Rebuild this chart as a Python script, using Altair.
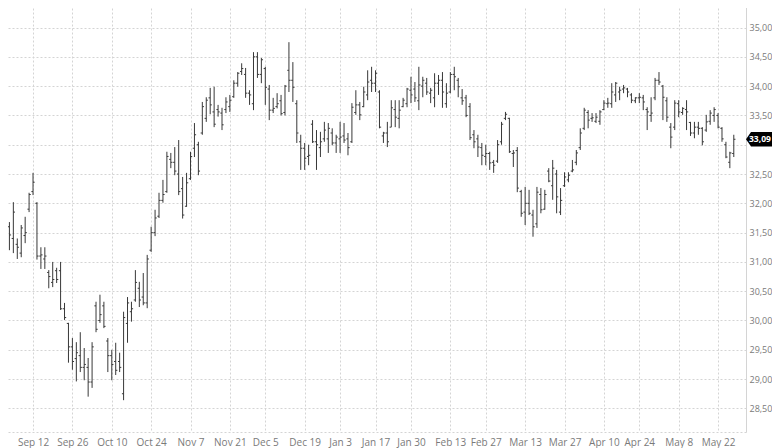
import altair as alt
import pandas as pd

# trading-day index (1 = Aug 30) ... 187 = May 26
day_index = list(range(1, 188))

open_ = [
    32.11, 31.85, 31.60, 31.40, 31.30, 31.15, 31.45, 31.90, 32.20, 32.00,
    31.10, 31.05, 30.82, 30.65, 30.85, 30.85, 30.20, 29.95, 29.55, 29.35,
    29.40, 29.20, 29.20, 28.95, 30.25, 30.00, 30.25, 29.65, 29.40, 29.30,
    29.30, 28.75, 29.95, 30.15, 30.35, 30.55, 30.40, 30.30, 31.20, 31.50,
    31.78, 32.05, 32.20, 32.75, 32.70, 32.50, 32.25, 31.95, 32.42, 32.94,
    33.00, 33.20, 33.45, 33.80, 33.56, 33.60, 33.54, 33.60, 33.65, 33.82,
    34.05, 34.25, 34.20, 33.88, 33.70, 34.50, 34.20, 34.30, 33.95, 33.59,
    33.65, 33.75, 33.55, 34.27, 34.10, 33.70, 33.05, 32.94, 32.80, 33.35,
    33.05, 32.95, 33.10, 33.10, 33.20, 33.03, 33.10, 33.15, 33.10, 33.05,
    33.55, 33.68, 33.65, 33.85, 34.10, 34.05, 33.90, 33.15, 33.20, 33.30,
    33.60, 33.45, 33.65, 33.70, 33.93, 33.95, 33.75, 34.00, 34.05, 33.88,
    33.80, 34.05, 34.10, 33.70, 33.90, 34.20, 34.10, 33.80, 33.80, 33.65,
    33.17, 33.10, 32.95, 32.80, 32.85, 32.70, 32.72, 33.05, 33.45, 33.45,
    32.85, 32.90, 32.20, 31.85, 32.00, 31.80, 31.65, 32.15, 31.90, 32.55,
    32.30, 32.50, 31.85, 32.30, 32.40, 32.55, 32.70, 32.95, 33.28, 33.55,
    33.45, 33.40, 33.40, 33.60, 33.70, 33.70, 33.85, 33.90, 33.95, 33.95,
    33.85, 33.75, 33.80, 33.80, 33.60, 33.50, 33.80, 34.10, 34.00, 33.75,
    33.30, 33.30, 33.70, 33.55, 33.60, 33.38, 33.20, 33.30, 33.28, 33.25,
    33.40, 33.50, 33.50, 33.28, 33.00, 32.70, 32.85,
]
high = [
    32.19, 32.01, 31.68, 32.02, 31.40, 31.63, 31.77, 32.18, 32.52, 32.02,
    31.25, 31.25, 30.86, 31.00, 30.90, 31.00, 30.30, 29.96, 29.70, 29.63,
    29.80, 29.53, 29.36, 29.63, 30.32, 30.44, 30.32, 29.70, 29.50, 29.62,
    29.45, 30.15, 30.40, 30.32, 30.86, 30.66, 30.81, 31.12, 31.60, 31.89,
    32.18, 32.40, 32.88, 32.86, 32.96, 33.08, 32.45, 32.52, 32.88, 33.37,
    33.05, 33.73, 33.81, 33.97, 33.99, 33.68, 33.63, 33.81, 33.85, 34.10,
    34.24, 34.39, 34.31, 33.93, 34.58, 34.58, 34.48, 34.33, 34.02, 33.80,
    33.88, 33.85, 34.02, 34.75, 34.41, 33.76, 33.17, 33.03, 33.00, 33.42,
    33.25, 33.22, 33.39, 33.37, 33.28, 33.17, 33.39, 33.37, 33.20, 33.71,
    33.93, 33.73, 33.99, 34.27, 34.33, 34.27, 33.93, 33.22, 33.39, 33.76,
    33.76, 33.76, 33.80, 33.97, 34.16, 34.07, 34.33, 34.16, 34.14, 33.97,
    34.22, 34.19, 34.24, 34.05, 34.24, 34.33, 34.14, 33.95, 33.85, 33.71,
    33.25, 33.17, 33.03, 33.00, 32.88, 32.74, 33.08, 33.39, 33.56, 33.46,
    32.91, 32.96, 32.23, 32.28, 32.23, 31.89, 32.28, 32.26, 32.23, 32.60,
    32.74, 32.57, 32.26, 32.53, 32.53, 32.74, 32.91, 33.28, 33.63, 33.59,
    33.54, 33.54, 33.59, 33.76, 33.80, 34.05, 34.07, 33.99, 34.02, 33.97,
    33.88, 33.81, 33.88, 33.85, 33.64, 33.81, 34.14, 34.24, 34.02, 33.81,
    33.37, 33.76, 33.76, 33.64, 33.76, 33.39, 33.39, 33.39, 33.30, 33.51,
    33.59, 33.64, 33.54, 33.30, 33.05, 32.88, 33.17,
]
low = [
    31.66, 31.59, 31.20, 31.15, 31.05, 31.08, 31.32, 31.85, 32.14, 31.04,
    30.88, 30.88, 30.55, 30.57, 30.64, 30.18, 30.01, 29.28, 29.16, 28.96,
    29.12, 28.98, 28.70, 28.85, 29.80, 29.96, 29.87, 29.12, 28.98, 29.07,
    29.12, 28.64, 29.62, 29.98, 30.32, 30.23, 30.26, 30.21, 31.17, 31.44,
    31.75, 32.01, 32.18, 32.60, 32.48, 32.14, 31.74, 31.94, 32.40, 32.79,
    32.48, 33.17, 33.39, 33.52, 33.30, 33.48, 33.25, 33.54, 33.56, 33.80,
    33.99, 34.19, 33.80, 33.68, 33.59, 34.14, 34.05, 33.68, 33.42, 33.54,
    33.62, 33.50, 33.50, 33.90, 33.73, 33.03, 32.57, 32.57, 32.65, 33.03,
    32.57, 32.79, 33.05, 32.86, 32.99, 32.86, 32.86, 33.03, 32.82, 33.03,
    33.51, 33.42, 33.64, 33.76, 33.90, 33.90, 33.28, 33.03, 32.96, 33.30,
    33.30, 33.28, 33.64, 33.64, 33.71, 33.73, 33.59, 33.81, 33.85, 33.71,
    33.64, 33.85, 33.63, 33.63, 33.88, 33.93, 33.81, 33.68, 33.47, 33.08,
    32.94, 32.79, 32.65, 32.65, 32.57, 32.52, 32.69, 33.00, 33.42, 32.86,
    32.62, 32.19, 31.77, 31.63, 31.80, 31.43, 31.58, 31.83, 31.89, 32.36,
    32.06, 31.83, 31.80, 32.28, 32.36, 32.53, 32.65, 32.91, 33.25, 33.28,
    33.39, 33.37, 33.34, 33.59, 33.63, 33.63, 33.73, 33.76, 33.88, 33.81,
    33.71, 33.71, 33.71, 33.59, 33.25, 33.39, 33.76, 34.02, 33.42, 33.39,
    32.94, 33.25, 33.47, 33.51, 33.25, 33.15, 33.11, 33.17, 32.99, 33.22,
    33.34, 33.39, 33.28, 33.05, 32.77, 32.60, 32.79,
]
close = [
    31.80, 31.83, 31.46, 31.85, 31.25, 31.58, 31.50, 32.15, 32.36, 31.10,
    31.12, 31.10, 30.75, 30.70, 30.70, 30.20, 30.05, 29.55, 29.30, 29.45,
    29.20, 29.25, 28.95, 29.55, 29.85, 30.10, 29.90, 29.40, 29.25, 29.15,
    29.20, 30.05, 30.30, 30.20, 30.65, 30.35, 30.30, 31.05, 31.50, 31.75,
    32.05, 32.15, 32.80, 32.70, 32.55, 32.20, 31.80, 32.35, 32.80, 33.17,
    32.55, 33.65, 33.76, 33.68, 33.35, 33.56, 33.34, 33.73, 33.76, 34.05,
    34.22, 34.30, 33.88, 33.85, 34.50, 34.20, 34.45, 33.98, 33.59, 33.62,
    33.70, 33.53, 34.00, 34.10, 33.98, 33.20, 32.94, 32.77, 32.82, 33.05,
    33.00, 33.05, 33.25, 33.28, 33.03, 33.13, 33.13, 33.08, 32.95, 33.64,
    33.68, 33.51, 33.90, 34.07, 34.05, 34.22, 33.30, 33.20, 33.05, 33.63,
    33.47, 33.59, 33.76, 33.95, 33.85, 33.80, 34.02, 34.10, 33.90, 33.93,
    34.05, 34.10, 33.90, 33.88, 34.20, 34.16, 33.99, 33.75, 33.50, 33.12,
    33.05, 32.96, 32.82, 32.85, 32.69, 32.65, 33.00, 33.35, 33.52, 32.88,
    32.86, 32.26, 31.83, 32.00, 31.83, 31.60, 32.19, 31.89, 32.15, 32.38,
    32.60, 32.11, 32.05, 32.45, 32.48, 32.57, 32.86, 33.20, 33.59, 33.42,
    33.46, 33.47, 33.56, 33.71, 33.71, 33.90, 34.05, 33.93, 33.97, 33.90,
    33.76, 33.80, 33.81, 33.73, 33.56, 33.54, 34.10, 34.07, 33.81, 33.47,
    33.13, 33.71, 33.56, 33.62, 33.56, 33.20, 33.30, 33.28, 33.05, 33.39,
    33.54, 33.60, 33.30, 33.10, 32.79, 32.86, 33.093,
]

tick_index = [0, 9, 19, 29, 39, 49, 59, 68, 78, 87, 96, 105, 115, 124, 134,
              144, 154, 163, 173, 183]
tick_text = ["Aug 29", "Sep 12", "Sep 26", "Oct 10", "Oct 24", "Nov 7",
             "Nov 21", "Dec 5", "Dec 19", "Jan 3", "Jan 17", "Jan 30",
             "Feb 13", "Feb 27", "Mar 13", "Mar 27", "Apr 10", "Apr 24",
             "May 8", "May 22"]
y_ticks = [28.5, 29.0, 29.5, 30.0, 30.5, 31.0, 31.5, 32.0, 32.5, 33.0,
           33.5, 34.0, 34.5, 35.0]
last_price = [33.093]
last_label = ["33,09"]

df = pd.DataFrame({"i": day_index, "open": open_, "high": high,
                   "low": low, "close": close})
df["io"] = df["i"] - 0.42
df["ic"] = df["i"] + 0.42

FONT = "Open Sans"
GRID = "#d4d4d4"
BAR = "#383838"

x_expr = "{}[indexof({}, datum.value)]".format(
    "[" + ",".join("'%s'" % t for t in tick_text) + "]",
    "[" + ",".join(str(v) for v in tick_index) + "]")
# the 33,00 label sits under the last-price tag in the reference
y_expr = ("abs(datum.value - 33) < 0.01 ? '' : "
          "replace(format(datum.value, '.2f'), '.', ',')")

xscale = alt.Scale(domain=[0.61, 190.1], nice=False, zero=False)
yscale = alt.Scale(domain=[28.097, 35.47], nice=False, zero=False)

xaxis = alt.Axis(values=tick_index, labelExpr=x_expr, grid=True,
                 gridColor=GRID, gridDash=[2, 2], gridWidth=1,
                 ticks=False, domain=True, domainColor=GRID,
                 domainDash=[2, 2], labelColor="#7a7a7a", labelFont=FONT,
                 labelFontSize=10, labelPadding=5, labelOverlap=False,
                 title=None)
yaxis = alt.Axis(orient="right", values=y_ticks, labelExpr=y_expr,
                 grid=True, gridColor=GRID, gridDash=[2, 2], gridWidth=1,
                 ticks=False, domain=True, domainColor=GRID,
                 labelColor="#7a7a7a", labelFont=FONT, labelFontSize=9,
                 labelPadding=3, labelOverlap=False, labelBound=False,
                 title=None)

X = lambda f: alt.X(f, type="quantitative", scale=xscale, axis=xaxis)
Y = lambda f: alt.Y(f, type="quantitative", scale=yscale, axis=yaxis)

base = alt.Chart(df)

hl = base.mark_rule(color=BAR, strokeWidth=1).encode(
    x=X("i"), y=Y("low"), y2="high")
op = base.mark_rule(color=BAR, strokeWidth=1).encode(
    x=X("io"), x2="i", y=Y("open"))
cl = base.mark_rule(color=BAR, strokeWidth=1).encode(
    x=X("i"), x2="ic", y=Y("close"))

tag_df = pd.DataFrame({"price": last_price, "label": last_label})
tag_shape = alt.Chart(tag_df).mark_point(
    shape="M-1,0L-0.72,-0.4L1,-0.4L1,0.4L-0.72,0.4Z",
    filled=True, color="#000000", opacity=1, size=1296, strokeWidth=0,
).encode(x=alt.value(764), y=Y("price"))
tag_text = alt.Chart(tag_df).mark_text(
    align="left", baseline="middle", color="#ffffff", font=FONT,
    fontSize=8.5, fontWeight="bold",
).encode(x=alt.value(749), y=Y("price"), text="label:N")

chart = alt.layer(hl, op, cl, tag_shape, tag_text).properties(
    width=746, height=432,
    autosize=alt.AutoSizeParams(type="none"),
    padding={"left": -8, "top": -8, "right": 26, "bottom": 16},
    background="#ffffff",
).configure_view(strokeWidth=0)

chart.save("out.html", embed_options={"renderer": "svg", "actions": False})
